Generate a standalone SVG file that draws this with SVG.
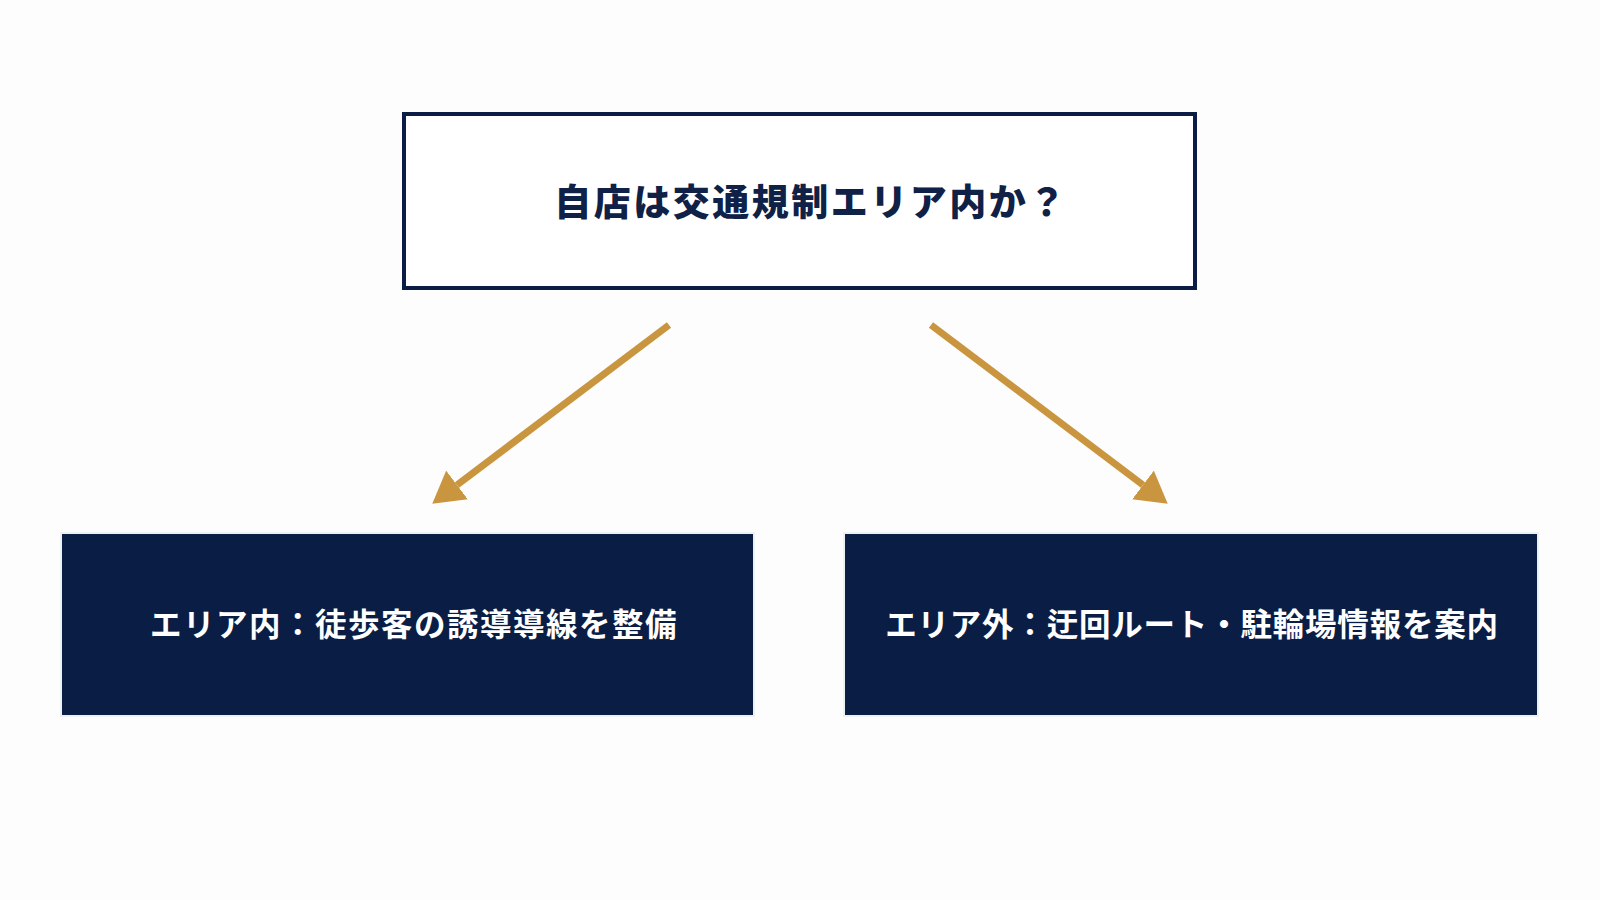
<svg xmlns="http://www.w3.org/2000/svg" width="1600" height="900" viewBox="0 0 1600 900">
  <defs>
    <marker id="arrow" markerUnits="userSpaceOnUse" markerWidth="32" markerHeight="36" refX="0" refY="18" orient="auto">
      <path d="M0,0 L31,18 L0,36 Z" fill="#C9963F"/>
    </marker>
  </defs>
  <style>
    .bg { fill: #FDFDFD; }
    .q { fill: #FFFFFF; stroke: #0B1D44; stroke-width: 4; }
    .a { fill: #0A1E45; stroke: #EEF0F4; stroke-width: 2; }
    .t { font-family: "Noto Sans CJK JP", "Noto Sans", sans-serif; font-weight: 700; text-anchor: middle; dominant-baseline: central; }
    .tq { fill: #0F2147; font-size: 37px; letter-spacing: 2.5px; font-weight: 900; }
    .ta { fill: #FFFFFF; font-size: 31.5px; letter-spacing: 1.5px; }
    .tb { letter-spacing: 0.8px; }
    .c { stroke: #C9963F; stroke-width: 7; fill: none; marker-end: url(#arrow); }
  </style>
  <rect class="bg" x="0" y="0" width="1600" height="900"/>
  <g id="connectors">
    <line class="c" x1="669" y1="325" x2="457" y2="485"/>
    <line class="c" x1="931" y1="325" x2="1143" y2="485"/>
  </g>
  <g id="question">
    <rect class="q" x="404" y="114" width="791" height="174"/>
    <text class="t tq" x="811" y="199.5">自店は交通規制エリア内か？</text>
  </g>
  <g id="inside">
    <rect class="a" x="61" y="533" width="693" height="183"/>
    <text class="t ta" x="414" y="621.5">エリア内：徒歩客の誘導導線を整備</text>
  </g>
  <g id="outside">
    <rect class="a" x="844" y="533" width="694" height="183"/>
    <text class="t ta tb" x="1192" y="621.5">エリア外：迂回ルート・駐輪場情報を案内</text>
  </g>
</svg>
